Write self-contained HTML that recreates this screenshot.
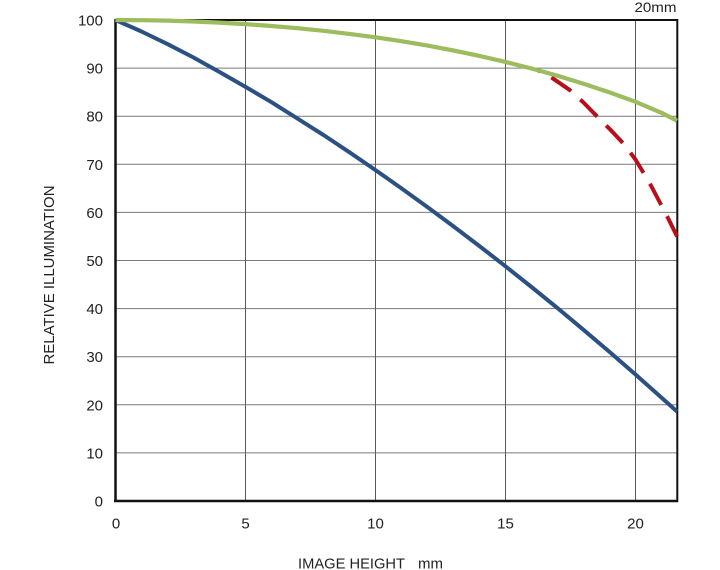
<!DOCTYPE html>
<html>
<head>
<meta charset="utf-8">
<style>
  html, body { margin: 0; padding: 0; background: #ffffff; }
  body { width: 720px; height: 570px; overflow: hidden; }
  svg { display: block; }
  text { font-family: "Liberation Sans", "DejaVu Sans", sans-serif; fill: #222; }
</style>
</head>
<body>
<svg width="720" height="570" viewBox="0 0 720 570" xmlns="http://www.w3.org/2000/svg">
  <rect x="0" y="0" width="720" height="570" fill="#ffffff"/>

  <!-- horizontal grid -->
  <g stroke="#7a7a7a" stroke-width="1">
    <line x1="115.5" y1="452.9" x2="677" y2="452.9"/>
    <line x1="115.5" y1="404.8" x2="677" y2="404.8"/>
    <line x1="115.5" y1="356.7" x2="677" y2="356.7"/>
    <line x1="115.5" y1="308.6" x2="677" y2="308.6"/>
    <line x1="115.5" y1="260.5" x2="677" y2="260.5"/>
    <line x1="115.5" y1="212.4" x2="677" y2="212.4"/>
    <line x1="115.5" y1="164.3" x2="677" y2="164.3"/>
    <line x1="115.5" y1="116.2" x2="677" y2="116.2"/>
    <line x1="115.5" y1="68.1" x2="677" y2="68.1"/>
  </g>
  <!-- vertical grid -->
  <g stroke="#5a5a5a" stroke-width="1">
    <line x1="245.5" y1="20" x2="245.5" y2="501"/>
    <line x1="375.5" y1="20" x2="375.5" y2="501"/>
    <line x1="505.5" y1="20" x2="505.5" y2="501"/>
    <line x1="635.5" y1="20" x2="635.5" y2="501"/>
  </g>

  <!-- frame -->
  <rect x="115.5" y="20" width="561.8" height="481" fill="none" stroke="#111" stroke-width="2"/>
  <line x1="115.5" y1="19" x2="115.5" y2="502" stroke="#111" stroke-width="2.5"/>
  <line x1="114" y1="501" x2="678" y2="501" stroke="#111" stroke-width="2.5"/>

  <!-- blue curve -->
  <polyline fill="none" stroke="#2b5083" stroke-width="4" stroke-linejoin="round" stroke-linecap="butt"
    points="115.5,20 141.5,31.5 167.5,44.05 193.5,57.5 219.5,71.95 245.5,86.86 271.5,102.2 297.5,118.6 323.5,135 349.5,152.3 375.5,170.1 401.5,188.35 427.5,207.1 453.5,226.35 479.5,246.1 505.5,266.3 531.5,287 557.5,308.1 583.5,329.8 609.5,351.9 635.5,374.5 661.5,397.6 677,411.5"/>

  <!-- red dashed curve -->
  <polyline fill="none" stroke="#b8101a" stroke-width="4" stroke-linejoin="round" stroke-linecap="butt"
    stroke-dasharray="24 12.6" stroke-dashoffset="20"
    points="536.7,69.6 551.8,77.7 570,90.2 583.5,102.5 596.5,115.8 610,129.3 623.3,143.4 635.5,159.5 643.3,172.5 651.5,186.5 659.9,202.5 668.5,219 677.1,236.5"/>

  <!-- green curve -->
  <polyline fill="none" stroke="#9cbc5e" stroke-width="4.2" stroke-linejoin="round" stroke-linecap="butt"
    points="115.5,20 141.5,20.2 167.5,20.65 193.5,21.5 219.5,22.6 245.5,24.1 271.5,26 297.5,28.2 323.5,30.8 349.5,33.9 375.5,37.3 401.5,41.2 427.5,45.6 453.5,50.5 479.5,55.9 505.5,61.9 531.5,68.5 557.5,75.7 583.5,83.7 609.5,92.4 635.5,101.8 661.5,112.8 677,120.8"/>

  <!-- y tick labels -->
  <g font-size="15" text-anchor="end">
    <text x="103" y="25.5">100</text>
    <text x="103" y="73.6">90</text>
    <text x="103" y="121.7">80</text>
    <text x="103" y="169.8">70</text>
    <text x="103" y="217.9">60</text>
    <text x="103" y="266">50</text>
    <text x="103" y="314.1">40</text>
    <text x="103" y="362.2">30</text>
    <text x="103" y="410.3">20</text>
    <text x="103" y="458.4">10</text>
    <text x="103" y="506.5">0</text>
  </g>

  <!-- x tick labels -->
  <g font-size="15" text-anchor="middle">
    <text x="116" y="528.5">0</text>
    <text x="245.5" y="528.5">5</text>
    <text x="375.5" y="528.5">10</text>
    <text x="505.5" y="528.5">15</text>
    <text x="635.5" y="528.5">20</text>
  </g>

  <!-- axis titles -->
  <text x="298" y="568.5" font-size="15" textLength="107" lengthAdjust="spacingAndGlyphs">IMAGE HEIGHT</text>
  <text x="418" y="568.5" font-size="15" textLength="25" lengthAdjust="spacingAndGlyphs">mm</text>
  <text x="0" y="0" font-size="15" text-anchor="middle" textLength="179" lengthAdjust="spacingAndGlyphs"
    transform="translate(54,275) rotate(-90)">RELATIVE ILLUMINATION</text>

  <!-- top-right label -->
  <text x="634.5" y="12" font-size="14" textLength="42" lengthAdjust="spacingAndGlyphs">20mm</text>
</svg>
</body>
</html>
